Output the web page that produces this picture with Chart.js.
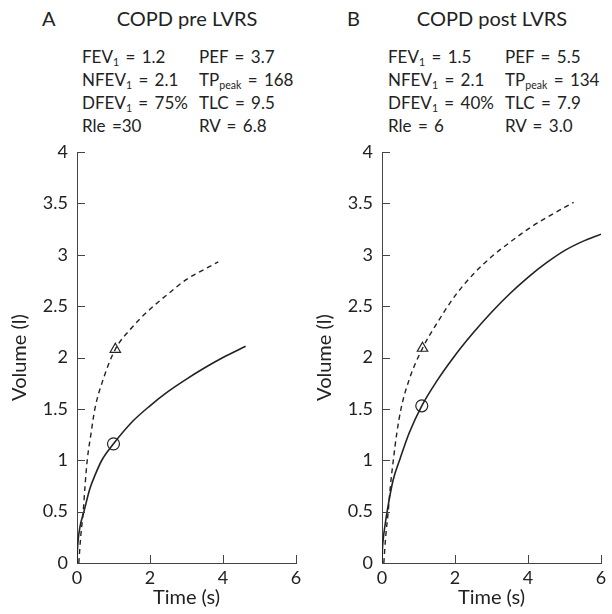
<!DOCTYPE html>
<html><head><meta charset="utf-8">
<script src="https://cdn.jsdelivr.net/npm/chart.js@4/dist/chart.umd.min.js"></script>
<style>
html,body{margin:0;padding:0;background:#fff;}
body{width:612px;height:614px;position:relative;overflow:hidden;font-family:Lato,'Liberation Sans',sans-serif;color:#222;}
.t{position:absolute;white-space:nowrap;line-height:1;}
.big{font-size:20px;}
.row{font-size:17px;word-spacing:2px;}
sub{font-size:0.62em;vertical-align:-0.3em;line-height:0;}
.panel{position:absolute;top:130px;width:306px;height:484px;}
</style></head>
<body>
<div class="t big" style="left:42px;top:8px;">A</div>
<div class="t big" style="left:187px;top:8px;transform:translateX(-50%);">COPD pre LVRS</div>
<div class="t row" style="left:82px;top:48px;">FEV<sub>1</sub> = 1.2</div>
<div class="t row" style="left:82px;top:71px;">NFEV<sub>1</sub> = 2.1</div>
<div class="t row" style="left:82px;top:94px;">DFEV<sub>1</sub> = 75%</div>
<div class="t row" style="left:82px;top:117px;">Rle =30</div>
<div class="t row" style="left:199px;top:48px;">PEF = 3.7</div>
<div class="t row" style="left:199px;top:71px;">TP<sub>peak</sub> = 168</div>
<div class="t row" style="left:199px;top:94px;">TLC = 9.5</div>
<div class="t row" style="left:199px;top:117px;">RV = 6.8</div>

<div class="t big" style="left:347px;top:8px;">B</div>
<div class="t big" style="left:492px;top:8px;transform:translateX(-50%);">COPD post LVRS</div>
<div class="t row" style="left:388px;top:48px;">FEV<sub>1</sub> = 1.5</div>
<div class="t row" style="left:388px;top:71px;">NFEV<sub>1</sub> = 2.1</div>
<div class="t row" style="left:388px;top:94px;">DFEV<sub>1</sub> = 40%</div>
<div class="t row" style="left:388px;top:117px;">Rle = 6</div>
<div class="t row" style="left:505px;top:48px;">PEF = 5.5</div>
<div class="t row" style="left:505px;top:71px;">TP<sub>peak</sub> = 134</div>
<div class="t row" style="left:505px;top:94px;">TLC = 7.9</div>
<div class="t row" style="left:505px;top:117px;">RV = 3.0</div>

<div class="panel" style="left:0px;"><canvas id="cA" width="306" height="484"></canvas></div>
<div class="panel" style="left:305px;"><canvas id="cB" width="306" height="484"></canvas></div>

<script>
// Axis ranges / ticks
const timeRange = [0, 6];
const timeStep = 2;
const volumeRange = [0, 4];
const volumeStep = 0.5;

// Panel A: COPD pre LVRS
const preSolidT = [0, 0.01, 0.03, 0.08, 0.19, 0.35, 0.5, 0.68, 1.0, 1.5, 2.0, 2.5, 3.0, 3.5, 4.0, 4.62];
const preSolidV = [0, 0.12, 0.22, 0.35, 0.5, 0.72, 0.86, 1.0, 1.16, 1.37, 1.53, 1.67, 1.79, 1.9, 2.0, 2.11];
const preDashT = [0.05, 0.1, 0.17, 0.22, 0.28, 0.38, 0.49, 0.72, 1.05, 1.5, 2.0, 2.5, 3.0, 3.5, 3.87];
const preDashV = [0, 0.25, 0.5, 0.75, 1.0, 1.25, 1.5, 1.79, 2.08, 2.29, 2.47, 2.62, 2.76, 2.86, 2.93];
const preCircle = [1.0, 1.16];
const preTriangle = [1.05, 2.08];

// Panel B: COPD post LVRS
const postSolidT = [0, 0.01, 0.03, 0.08, 0.14, 0.3, 0.5, 0.75, 1.09, 1.5, 2.0, 2.5, 3.0, 3.5, 4.0, 4.5, 5.0, 5.5, 6.0];
const postSolidV = [0, 0.12, 0.22, 0.36, 0.5, 0.8, 1.02, 1.27, 1.53, 1.77, 2.02, 2.24, 2.44, 2.62, 2.78, 2.92, 3.04, 3.13, 3.2];
const postDashT = [0.05, 0.1, 0.17, 0.23, 0.31, 0.4, 0.52, 0.75, 1.11, 1.5, 2.0, 2.5, 3.0, 3.5, 4.0, 4.5, 5.25];
const postDashV = [0, 0.25, 0.5, 0.75, 1.0, 1.25, 1.5, 1.79, 2.09, 2.33, 2.6, 2.81, 2.98, 3.12, 3.25, 3.36, 3.51];
const postCircle = [1.09, 1.53];
const postTriangle = [1.11, 2.09];

const INK = '#222';
const AXIS = '#444';
const FONT = 'Lato, "Liberation Sans", sans-serif';

function zip(t, v) { return t.map((x, i) => ({ x: x, y: v[i] })); }

const inwardTicks = {
  id: 'inwardTicks',
  afterDraw(chart) {
    const ctx = chart.ctx, xs = chart.scales.x, ys = chart.scales.y;
    const L = 8;
    ctx.save();
    ctx.strokeStyle = AXIS;
    ctx.lineWidth = 1;
    ctx.beginPath();
    ys.ticks.forEach(tk => {
      if (tk.value === volumeRange[0]) return;
      const y = Math.round(ys.getPixelForValue(tk.value)) + 0.5;
      ctx.moveTo(xs.left, y); ctx.lineTo(xs.left + L, y);
    });
    xs.ticks.forEach(tk => {
      if (tk.value === timeRange[0]) return;
      const x = Math.round(xs.getPixelForValue(tk.value)) + 0.5;
      ctx.moveTo(x, ys.bottom); ctx.lineTo(x, ys.bottom - L);
    });
    ctx.stroke();
    ctx.restore();
  }
};

function makePanel(id, sT, sV, dT, dV, circ, tri) {
  new Chart(document.getElementById(id), {
    type: 'scatter',
    data: {
      datasets: [
        { data: zip(sT, sV), showLine: true, borderColor: INK, borderWidth: 1.6, pointRadius: 0, cubicInterpolationMode: 'monotone', fill: false },
        { data: zip(dT, dV), showLine: true, borderColor: INK, borderWidth: 1.4, borderDash: [5, 4], pointRadius: 0, cubicInterpolationMode: 'monotone', fill: false },
        { data: [{ x: circ[0], y: circ[1] }], pointStyle: 'circle', pointRadius: 6, backgroundColor: '#fff', borderColor: INK, borderWidth: 1.2 },
        { data: [{ x: tri[0], y: tri[1] }], pointStyle: 'triangle', pointRadius: 6, backgroundColor: '#fff', borderColor: INK, borderWidth: 1.2 }
      ]
    },
    options: {
      responsive: false,
      animation: false,
      events: [],
      layout: { padding: { top: 22, right: 10, left: 0, bottom: 0 } },
      plugins: { legend: { display: false }, tooltip: { enabled: false } },
      scales: {
        x: {
          type: 'linear', min: timeRange[0], max: timeRange[1],
          ticks: { stepSize: timeStep, color: INK, font: { family: FONT, size: 18 }, padding: 4, maxRotation: 0, callback: v => String(v) },
          grid: { display: false, drawTicks: false, tickLength: 0 },
          border: { display: true, color: AXIS, width: 1 },
          title: { display: true, text: 'Time (s)', color: INK, font: { family: FONT, size: 20 }, padding: { top: 0, bottom: 4 } },
          afterFit(s) { s.height = 51; }
        },
        y: {
          type: 'linear', min: volumeRange[0], max: volumeRange[1],
          ticks: { stepSize: volumeStep, color: INK, font: { family: FONT, size: 18 }, padding: 9, callback: v => String(v) },
          grid: { display: false, drawTicks: false, tickLength: 0 },
          border: { display: true, color: AXIS, width: 1 },
          title: { display: true, text: 'Volume (l)', color: INK, font: { family: FONT, size: 20 }, padding: { top: 8, bottom: 0 } },
          afterFit(s) { s.width = 77; }
        }
      }
    },
    plugins: [inwardTicks]
  });
}

makePanel('cA', preSolidT, preSolidV, preDashT, preDashV, preCircle, preTriangle);
makePanel('cB', postSolidT, postSolidV, postDashT, postDashV, postCircle, postTriangle);
</script>
</body></html>
